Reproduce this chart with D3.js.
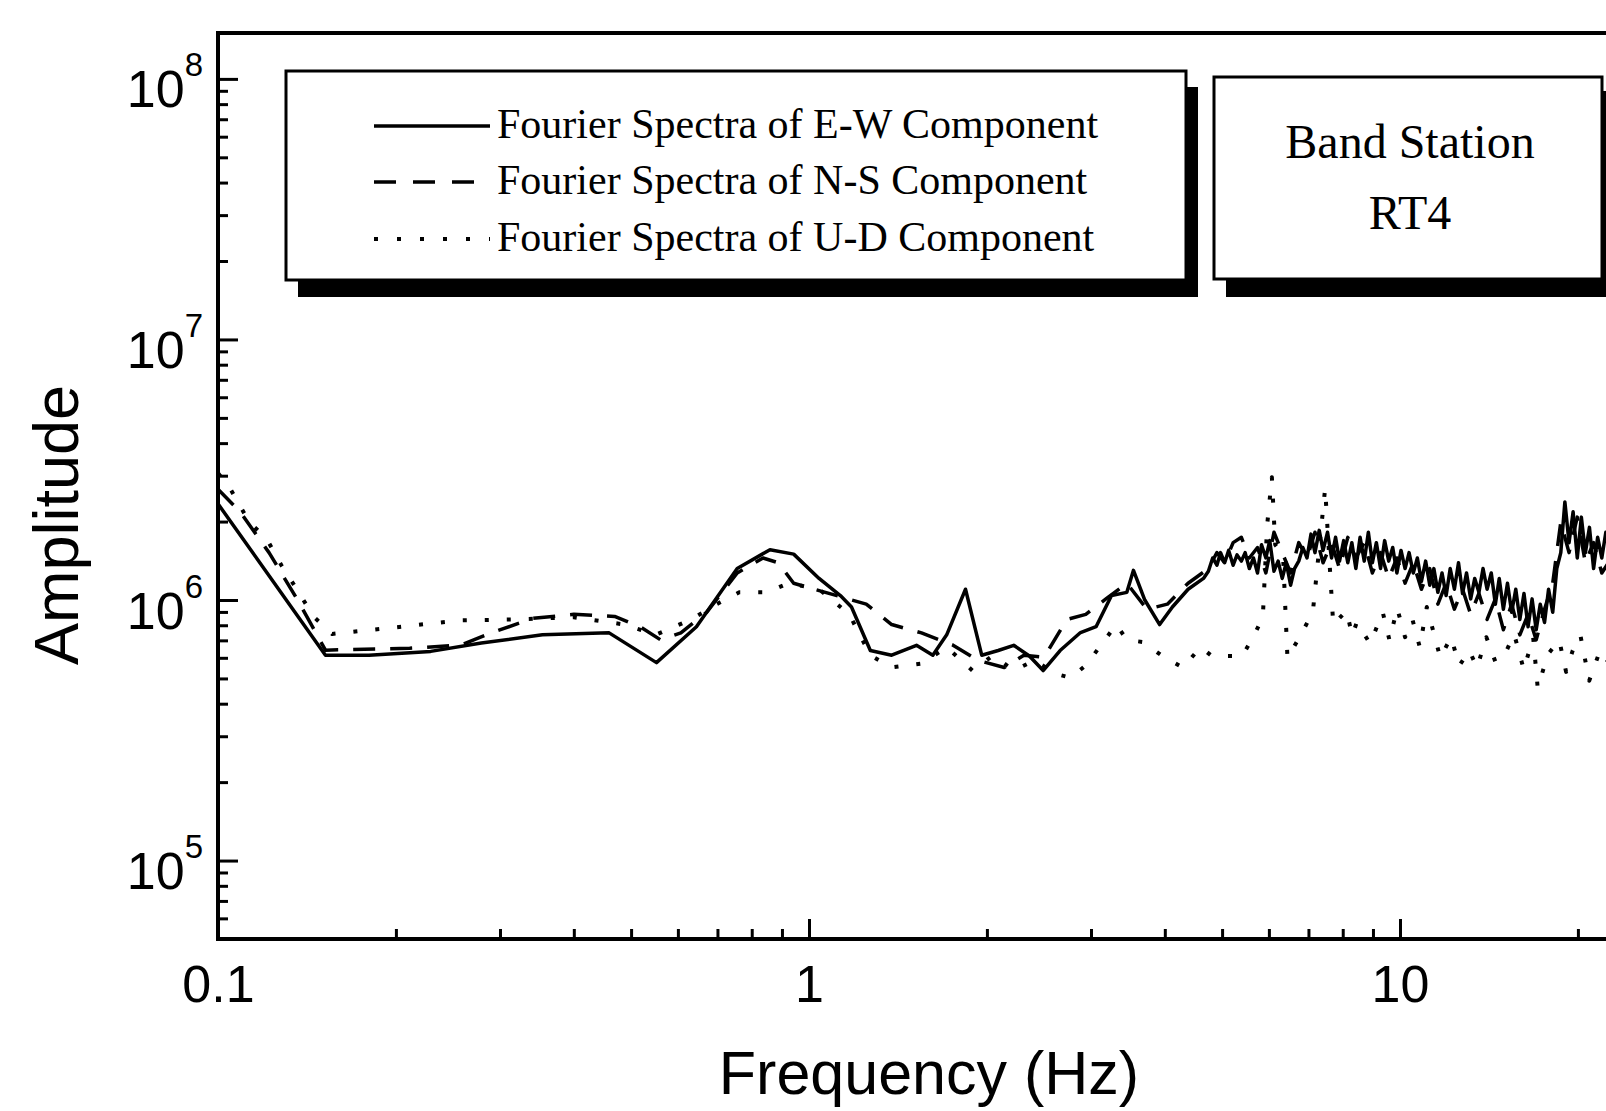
<!DOCTYPE html>
<html lang="en">
<head>
    <meta charset="UTF-8">
    <title>Fourier Spectra - Band Station RT4</title>
    <script src="https://cdn.jsdelivr.net/npm/d3@7/dist/d3.min.js"></script>
    <style>
        body { margin: 0; background: #fff; }
    </style>
</head>
<body>
<div id="chart"></div>

<script>
    // [frequency (Hz), amplitude]
    const ewSpectrum = [
        [0.100, 2.34e6], [0.152, 6.14e5], [0.180, 6.14e5], [0.229, 6.35e5], [0.279, 6.84e5],
        [0.354, 7.35e5], [0.459, 7.48e5], [0.552, 5.75e5], [0.645, 7.9e5], [0.756, 1.32e6],
        [0.859, 1.56e6], [0.942, 1.50e6], [1.04, 1.21e6], [1.13, 1.04e6], [1.18, 9.4e5],
        [1.27, 6.4e5], [1.38, 6.14e5], [1.52, 6.7e5], [1.62, 6.14e5], [1.71, 7.35e5],
        [1.84, 1.10e6], [1.96, 6.14e5], [2.09, 6.4e5], [2.22, 6.7e5], [2.36, 6.1e5],
        [2.49, 5.36e5], [2.66, 6.4e5], [2.88, 7.5e5], [3.06, 7.9e5], [3.25, 1.04e6],
        [3.45, 1.07e6], [3.54, 1.30e6], [3.70, 1.0e6], [3.92, 8.05e5], [4.12, 9.4e5],
        [4.38, 1.10e6], [4.65, 1.21e6], [4.74, 1.29e6], [4.82, 1.45e6], [4.90, 1.36e6],
        [4.97, 1.52e6], [5.05, 1.39e6], [5.13, 1.55e6], [5.22, 1.36e6], [5.30, 1.49e6],
        [5.39, 1.41e6], [5.47, 1.52e6], [5.56, 1.32e6], [5.65, 1.45e6], [5.74, 1.27e6],
        [5.83, 1.63e6], [5.93, 1.45e6], [6.02, 1.69e6], [6.12, 1.29e6], [6.22, 1.41e6],
        [6.32, 1.21e6], [6.42, 1.39e6], [6.53, 1.14e6], [6.63, 1.32e6], [6.74, 1.41e6],
        [6.85, 1.59e6], [6.96, 1.45e6], [7.07, 1.79e6], [7.18, 1.52e6], [7.30, 1.85e6],
        [7.41, 1.55e6], [7.54, 1.82e6], [7.66, 1.45e6], [7.78, 1.74e6], [7.90, 1.41e6],
        [8.03, 1.69e6], [8.16, 1.39e6], [8.29, 1.66e6], [8.42, 1.32e6], [8.56, 1.74e6],
        [8.70, 1.41e6], [8.84, 1.82e6], [8.98, 1.39e6], [9.12, 1.66e6], [9.27, 1.32e6],
        [9.42, 1.69e6], [9.57, 1.41e6], [9.72, 1.59e6], [9.88, 1.27e6], [10.04, 1.55e6],
        [10.20, 1.32e6], [10.36, 1.52e6], [10.53, 1.27e6], [10.70, 1.45e6], [10.87, 1.18e6],
        [11.05, 1.41e6], [11.23, 1.14e6], [11.41, 1.32e6], [11.59, 1.07e6], [11.78, 1.27e6],
        [11.97, 1.04e6], [12.16, 1.32e6], [12.36, 1.10e6], [12.56, 1.39e6], [12.76, 1.06e6],
        [12.96, 1.27e6], [13.17, 1.01e6], [13.38, 1.21e6], [13.60, 1.07e6], [13.82, 1.32e6],
        [14.04, 1.10e6], [14.27, 1.27e6], [14.50, 9.64e5], [14.72, 1.21e6], [14.96, 9.22e5],
        [15.20, 1.16e6], [15.45, 8.97e5], [15.70, 1.10e6], [15.95, 8.42e5], [16.21, 1.06e6],
        [16.47, 7.9e5], [16.73, 1.01e6], [17.00, 7.69e5], [17.27, 9.64e5], [17.56, 8.2e5],
        [17.84, 1.10e6], [18.13, 8.97e5], [18.42, 1.32e6], [18.71, 1.52e6], [19.01, 2.38e6],
        [19.32, 1.66e6], [19.63, 2.18e6], [19.95, 1.45e6], [20.27, 2.08e6], [20.59, 1.52e6],
        [20.92, 1.90e6], [21.26, 1.32e6], [21.60, 1.74e6], [21.95, 1.45e6], [22.30, 1.82e6],
        [23.40, 1.52e6], [24.35, 1.66e6], [25.0, 1.45e6]
    ];

    const nsSpectrum = [
        [0.100, 2.66e6], [0.109, 2.18e6], [0.122, 1.52e6], [0.136, 1.01e6], [0.152, 6.42e5],
        [0.211, 6.53e5], [0.258, 6.72e5], [0.290, 7.48e5], [0.341, 8.50e5], [0.400, 8.81e5],
        [0.469, 8.65e5], [0.518, 7.90e5], [0.561, 7.03e5], [0.607, 7.48e5], [0.671, 8.97e5],
        [0.756, 1.27e6], [0.836, 1.45e6], [0.887, 1.39e6], [0.942, 1.16e6], [1.02, 1.10e6],
        [1.13, 1.03e6], [1.25, 9.64e5], [1.38, 8.05e5], [1.55, 7.48e5], [1.75, 6.72e5],
        [1.93, 5.87e5], [2.14, 5.51e5], [2.31, 6.14e5], [2.50, 6.03e5], [2.73, 8.42e5],
        [2.94, 8.81e5], [3.18, 1.01e6], [3.45, 1.16e6], [3.73, 9.22e5], [4.04, 9.64e5],
        [4.38, 1.16e6], [4.74, 1.32e6], [4.90, 1.52e6], [5.05, 1.39e6], [5.22, 1.66e6],
        [5.39, 1.74e6], [5.56, 1.45e6], [5.74, 1.59e6], [5.93, 1.27e6], [6.12, 1.82e6],
        [6.32, 1.52e6], [6.53, 1.27e6], [6.74, 1.66e6], [6.96, 1.45e6], [7.18, 1.82e6],
        [7.41, 1.39e6], [7.66, 1.66e6], [7.90, 1.32e6], [8.16, 1.74e6], [8.42, 1.45e6],
        [8.70, 1.66e6], [8.98, 1.27e6], [9.27, 1.52e6], [9.57, 1.21e6], [9.88, 1.45e6],
        [10.20, 1.16e6], [10.53, 1.39e6], [10.87, 1.10e6], [11.23, 1.32e6], [11.59, 9.64e5],
        [11.97, 1.16e6], [12.36, 9.22e5], [12.76, 1.10e6], [13.17, 8.81e5], [13.60, 1.06e6],
        [14.04, 8.42e5], [14.50, 1.01e6], [14.96, 7.69e5], [15.45, 9.64e5], [15.95, 7.35e5],
        [16.47, 8.81e5], [17.00, 7.03e5], [17.56, 9.22e5], [18.13, 1.16e6], [18.71, 1.99e6],
        [19.32, 1.52e6], [19.95, 2.08e6], [20.59, 1.39e6], [21.26, 1.66e6], [21.95, 1.27e6],
        [23.40, 1.59e6], [25.0, 1.39e6]
    ];

    const udSpectrum = [
        [0.100, 3.07e6], [0.105, 2.66e6], [0.113, 1.99e6], [0.121, 1.71e6], [0.128, 1.36e6],
        [0.137, 1.07e6], [0.145, 8.65e5], [0.156, 7.41e5], [0.190, 7.76e5], [0.256, 8.35e5],
        [0.314, 8.42e5], [0.400, 8.58e5], [0.488, 8.05e5], [0.550, 7.35e5], [0.632, 8.42e5],
        [0.698, 9.64e5], [0.762, 1.07e6], [0.850, 1.07e6], [0.923, 1.16e6], [1.04, 1.10e6],
        [1.17, 8.81e5], [1.27, 6.14e5], [1.38, 5.51e5], [1.55, 5.70e5], [1.71, 6.59e5],
        [1.89, 5.36e5], [2.05, 6.14e5], [2.22, 5.36e5], [2.41, 5.87e5], [2.61, 5.21e5],
        [2.77, 5.03e5], [2.94, 5.61e5], [3.12, 6.72e5], [3.31, 8.05e5], [3.45, 7.03e5],
        [3.67, 6.9e5], [3.96, 6.1e5], [4.29, 5.5e5], [4.60, 6.6e5], [4.80, 6.1e5],
        [5.00, 6.1e5], [5.41, 6.1e5], [5.67, 7.35e5], [5.86, 8.6e5], [5.96, 1.94e6],
        [6.07, 2.96e6], [6.15, 1.63e6], [6.34, 1.49e6], [6.45, 6.0e5], [6.76, 7.2e5],
        [7.12, 8.97e5], [7.47, 2.68e6], [7.71, 8.05e5], [8.12, 9.1e5], [8.30, 7.3e5],
        [8.45, 8.2e5], [8.9, 6.8e5], [9.35, 8.97e5], [9.6, 7.0e5], [9.89, 9.3e5],
        [10.2, 7.2e5], [10.5, 8.4e5], [10.8, 6.6e5], [11.1, 9.4e5], [11.4, 7.5e5],
        [11.7, 6.0e5], [12.2, 7.2e5], [12.6, 5.6e5], [13.1, 6.4e5], [13.5, 5.5e5],
        [14.0, 7.2e5], [14.5, 5.8e5], [15.1, 6.3e5], [15.6, 7.4e5], [16.2, 5.4e5],
        [16.8, 7.2e5], [17.1, 4.6e5], [17.8, 6.2e5], [18.6, 7.0e5], [19.1, 5.3e5],
        [19.6, 6.4e5], [20.2, 7.3e5], [20.9, 4.9e5], [21.8, 6.4e5], [23.0, 5.4e5],
        [25.0, 6.1e5]
    ];

    const xTickValues = [0.1, 1, 10];
    const yTickExponents = [5, 6, 7, 8];
    const legendLabels = [
        "Fourier Spectra of E-W Component",
        "Fourier Spectra of N-S Component",
        "Fourier Spectra of U-D Component"
    ];
    const stationLines = ["Band Station", "RT4"];

    const sans = "'Liberation Sans', Arial, Helvetica, sans-serif";
    const serif = "'Liberation Serif', 'Times New Roman', serif";

    const svg = d3.select("#chart")
        .append("svg")
        .attr("width", 1606)
        .attr("height", 1111)
        .style("display", "block")
        .style("background", "#fff");

    const plotLeft = 218, plotTop = 33, plotBottom = 939;
    const plotRight = plotLeft + 591 * Math.log10(250);   // plot runs off the right edge

    const x = d3.scaleLog().domain([0.1, 25]).range([plotLeft, plotRight]);
    const y = d3.scaleLog().domain([5e4, 1.5e8]).range([plotBottom, plotTop]);

    // minor tick positions (2..9 in every decade)
    const xMinor = [], yMinor = [];
    [0.1, 1, 10].forEach(d => { for (let k = 2; k <= 9; k++) if (d * k <= 25) xMinor.push(d * k); });
    [1e4, 1e5, 1e6, 1e7].forEach(d => { for (let k = 2; k <= 9; k++) if (d * k >= 5e4) yMinor.push(d * k); });

    function styleAxis(g) {
        g.select(".domain").remove();
        g.selectAll(".tick line").attr("stroke", "#000").attr("stroke-width", 3);
        g.selectAll(".tick text").attr("fill", "#000");
    }

    // x axis, ticks point inward
    svg.append("g")
        .attr("transform", "translate(0," + plotBottom + ")")
        .call(d3.axisBottom(x).tickValues(xMinor).tickFormat("").tickSizeInner(-10).tickSizeOuter(0))
        .call(styleAxis);

    svg.append("g")
        .attr("transform", "translate(0," + plotBottom + ")")
        .call(d3.axisBottom(x).tickValues(xTickValues).tickFormat(d => d)
            .tickSizeInner(-20).tickSizeOuter(0).tickPadding(26))
        .call(styleAxis)
        .call(g => g.selectAll(".tick text")
            .style("font-family", sans)
            .style("font-size", "52px"));

    // y axis
    svg.append("g")
        .attr("transform", "translate(" + plotLeft + ",0)")
        .call(d3.axisLeft(y).tickValues(yMinor).tickFormat("").tickSizeInner(-10).tickSizeOuter(0))
        .call(styleAxis);

    const yAxis = svg.append("g")
        .attr("transform", "translate(" + plotLeft + ",0)")
        .call(d3.axisLeft(y).tickValues(yTickExponents.map(e => Math.pow(10, e))).tickFormat("")
            .tickSizeInner(-20).tickSizeOuter(0))
        .call(styleAxis);

    yAxis.selectAll(".tick").each(function (d, i) {
        const t = d3.select(this).append("text")
            .attr("x", -15)
            .attr("y", 28)
            .attr("text-anchor", "end")
            .attr("fill", "#000")
            .style("font-family", sans)
            .style("font-size", "52px");
        t.append("tspan").text("10");
        t.append("tspan")
            .attr("dy", -31)
            .style("font-size", "33px")
            .text(yTickExponents[i]);
    });

    // frame
    svg.append("rect")
        .attr("x", plotLeft)
        .attr("y", plotTop)
        .attr("width", plotRight - plotLeft)
        .attr("height", plotBottom - plotTop)
        .attr("fill", "none")
        .attr("stroke", "#000")
        .attr("stroke-width", 4);

    // spectra
    svg.append("clipPath")
        .attr("id", "plotArea")
        .append("rect")
        .attr("x", plotLeft).attr("y", plotTop)
        .attr("width", plotRight - plotLeft).attr("height", plotBottom - plotTop);

    const line = d3.line()
        .x(d => x(d[0]))
        .y(d => y(d[1]));

    const series = [
        {data: udSpectrum, dash: "4,18", width: 4},
        {data: nsSpectrum, dash: "22,15", width: 3.5},
        {data: ewSpectrum, dash: null, width: 3.5}
    ];

    const lines = svg.append("g").attr("clip-path", "url(#plotArea)");
    series.forEach(s => {
        lines.append("path")
            .datum(s.data)
            .attr("d", line)
            .attr("fill", "none")
            .attr("stroke", "#000")
            .attr("stroke-width", s.width)
            .attr("stroke-linejoin", "round")
            .attr("stroke-dasharray", s.dash);
    });

    // axis titles
    svg.append("text")
        .attr("x", 929)
        .attr("y", 1094)
        .attr("text-anchor", "middle")
        .style("font-family", sans)
        .style("font-size", "61px")
        .text("Frequency (Hz)");

    svg.append("text")
        .attr("transform", "translate(78,525) rotate(-90)")
        .attr("text-anchor", "middle")
        .style("font-family", sans)
        .style("font-size", "63px")
        .text("Amplitude");

    // legend box with drop shadow
    const legend = svg.append("g");
    legend.append("rect")
        .attr("x", 298).attr("y", 87)
        .attr("width", 900).attr("height", 210)
        .attr("fill", "#000");
    legend.append("rect")
        .attr("x", 286).attr("y", 71)
        .attr("width", 900).attr("height", 209)
        .attr("fill", "#fff")
        .attr("stroke", "#000")
        .attr("stroke-width", 3);

    const rowY = [126, 182, 239];
    const legendDash = [null, "22,17", "4,19"];
    legendLabels.forEach((label, i) => {
        legend.append("line")
            .attr("x1", 374).attr("x2", 490)
            .attr("y1", rowY[i]).attr("y2", rowY[i])
            .attr("stroke", "#000")
            .attr("stroke-width", i == 2 ? 4 : 3.5)
            .attr("stroke-dasharray", legendDash[i]);
        legend.append("text")
            .attr("x", 497)
            .attr("y", rowY[i] + 12)
            .style("font-family", serif)
            .style("font-size", "42px")
            .text(label);
    });

    // station box
    const station = svg.append("g");
    station.append("rect")
        .attr("x", 1226).attr("y", 91)
        .attr("width", 390).attr("height", 206)
        .attr("fill", "#000");
    station.append("rect")
        .attr("x", 1214).attr("y", 77)
        .attr("width", 388).attr("height", 202)
        .attr("fill", "#fff")
        .attr("stroke", "#000")
        .attr("stroke-width", 3);
    stationLines.forEach((txt, i) => {
        station.append("text")
            .attr("x", 1410)
            .attr("y", 158 + i * 71)
            .attr("text-anchor", "middle")
            .style("font-family", serif)
            .style("font-size", "48px")
            .text(txt);
    });
</script>
</body>
</html>
